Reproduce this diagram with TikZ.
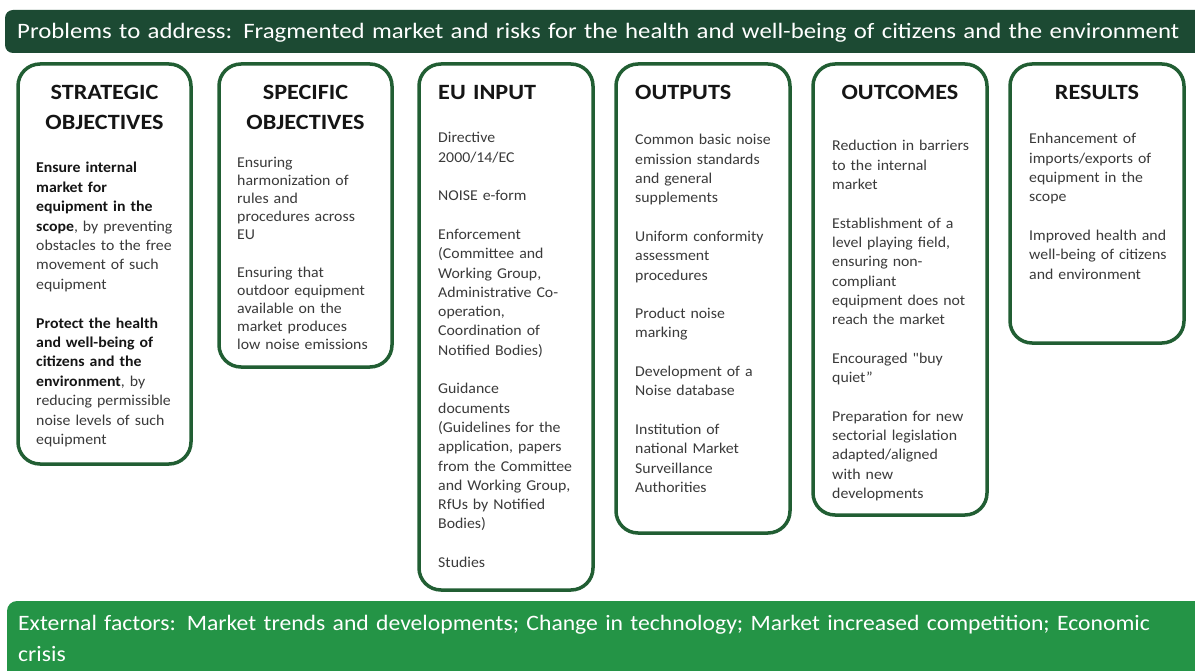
\documentclass[tikz,border=0pt]{standalone}
\usepackage{fontspec}
\setmainfont{Carlito}[FakeStretch=1.11, Ligatures=TeXOff]
\newfontfamily\footfont{Carlito}[FakeStretch=1.075, Ligatures=TeXOff]
\newfontfamily\headfont{Carlito}[FakeStretch=1.127, Ligatures=TeXOff]
\newfontfamily\bodyfont{Carlito}[FakeStretch=1.055, Ligatures=TeXOff]
\definecolor{topbar}{HTML}{1C4A33}
\definecolor{botbar}{HTML}{249446}
\definecolor{border}{HTML}{215E33}
\definecolor{bodytxt}{HTML}{3A3A3A}
\definecolor{titletxt}{HTML}{151515}
\tikzset{
  box/.style={draw=border, line width=3.5pt, rounded corners=22pt, inner sep=0pt, fill=white},
  title/.style={text=titletxt, font=\fontsize{21.8}{30}\selectfont\bfseries, inner sep=0pt, align=center, text width=170pt},
  titleL/.style={text=titletxt, font=\fontsize{21.8}{30}\selectfont\bfseries, inner sep=0pt, align=left, text width=150pt},
  body/.style={text=bodytxt, font=\bodyfont\fontsize{15}{19.3}\selectfont, inner sep=0pt, align=left, text width=155pt},
  bartxt/.style={text=white, font=\fontsize{22}{31}\selectfont, inner sep=0pt, align=left, text width=1175pt}
}
\begin{document}
\begin{tikzpicture}[x=1pt,y=-1pt]
\useasboundingbox (0,0) rectangle (1195,671);
\fill[white] (0,0) rectangle (1195,671);
\begin{scope}
\clip (0,0) rectangle (1195,671);
\fill[topbar, rounded corners=8pt] (5,10) rectangle (1225,53);
\fill[botbar, rounded corners=10pt] (7,601) rectangle (1225,700);
\end{scope}
\node[bartxt, anchor=base west, font=\headfont\fontsize{22}{31}\selectfont] (top) at (17,39) {Problems to address: Fragmented market and risks for the health and well-being of citizens and the environment};
\node[bartxt, anchor=base west, font=\footfont\fontsize{22}{31}\selectfont] (bot) at (18,630) {External factors: Market trends and developments; Change in technology; Market increased competition; Economic\\ crisis};

% boxes
\node[box, minimum width=173pt, minimum height=400pt] (b1) at (104.5,264) {};
\node[box, minimum width=173pt, minimum height=303pt] (b2) at (305.5,215.5) {};
\node[box, minimum width=174pt, minimum height=526pt] (b3) at (506,327) {};
\node[box, minimum width=174pt, minimum height=469pt] (b4) at (703,298.5) {};
\node[box, minimum width=174pt, minimum height=451pt] (b5) at (900,289.5) {};
\node[box, minimum width=174pt, minimum height=279pt] (b6) at (1097,203.5) {};

% titles
\node[title, anchor=base] (h1) at (104.5,99.5) {STRATEGIC\\ OBJECTIVES};
\node[title, anchor=base] (h2) at (305.5,99.5) {SPECIFIC\\ OBJECTIVES};
\node[titleL, anchor=base west] (h3) at (438,99.5) {EU INPUT};
\node[titleL, anchor=base west] (h4) at (635,99.5) {OUTPUTS};
\node[title, anchor=base] (h5) at (900,99.5) {OUTCOMES};
\node[title, anchor=base] (h6) at (1097,99.5) {RESULTS};

% bodies
\node[body, anchor=base west, font=\bodyfont\fontsize{15}{19.4}\selectfont] (t1) at (36,173) {\textcolor{titletxt}{\textbf{Ensure internal}}\\ \textcolor{titletxt}{\textbf{market for}}\\ \textcolor{titletxt}{\textbf{equipment in the}}\\ \textcolor{titletxt}{\textbf{scope}}, by preventing\\ obstacles to the free\\ movement of such\\ equipment\\[19.4pt] \textcolor{titletxt}{\textbf{Protect the health}}\\ \textcolor{titletxt}{\textbf{and well-being of}}\\ \textcolor{titletxt}{\textbf{citizens and the}}\\ \textcolor{titletxt}{\textbf{environment}}, by\\ reducing permissible\\ noise levels of such\\ equipment};
\node[body, anchor=base west, font=\bodyfont\fontsize{15}{17.9}\selectfont] (t2) at (237,168) {Ensuring\\ harmonization of\\ rules and\\ procedures across\\ EU\\[20pt] Ensuring that\\ outdoor equipment\\ available on the\\ market produces\\ low noise emissions};
\node[body, anchor=base west] (t3) at (438,143) {Directive\\ 2000/14/EC\\[19.3pt] NOISE e-form\\[19.3pt] Enforcement\\ (Committee and\\ Working Group,\\ Administrative Co-\\ operation,\\ Coordination of\\ Notified Bodies)\\[19.3pt] Guidance\\ documents\\ (Guidelines for the\\ application, papers\\ from the Committee\\ and Working Group,\\ RfUs by Notified\\ Bodies)\\[19.3pt] Studies};
\node[body, anchor=base west] (t4) at (635,145) {Common basic noise\\ emission standards\\ and general\\ supplements\\[19.3pt] Uniform conformity\\ assessment\\ procedures\\[19.3pt] Product noise\\ marking\\[19.3pt] Development of a\\ Noise database\\[19.3pt] Institution of\\ national Market\\ Surveillance\\ Authorities};
\node[body, anchor=base west] (t5) at (832,151) {Reduction in barriers\\ to the internal\\ market\\[19.3pt] Establishment of a\\ level playing field,\\ ensuring non-\\ compliant\\ equipment does not\\ reach the market\\[19.3pt] Encouraged "buy\\ quiet”\\[19.3pt] Preparation for new\\ sectorial legislation\\ adapted/aligned\\ with new\\ developments};
\node[body, anchor=base west] (t6) at (1029,144) {Enhancement of\\ imports/exports of\\ equipment in the\\ scope\\[19.3pt] Improved health and\\ well-being of citizens\\ and environment};
\end{tikzpicture}
\end{document}
